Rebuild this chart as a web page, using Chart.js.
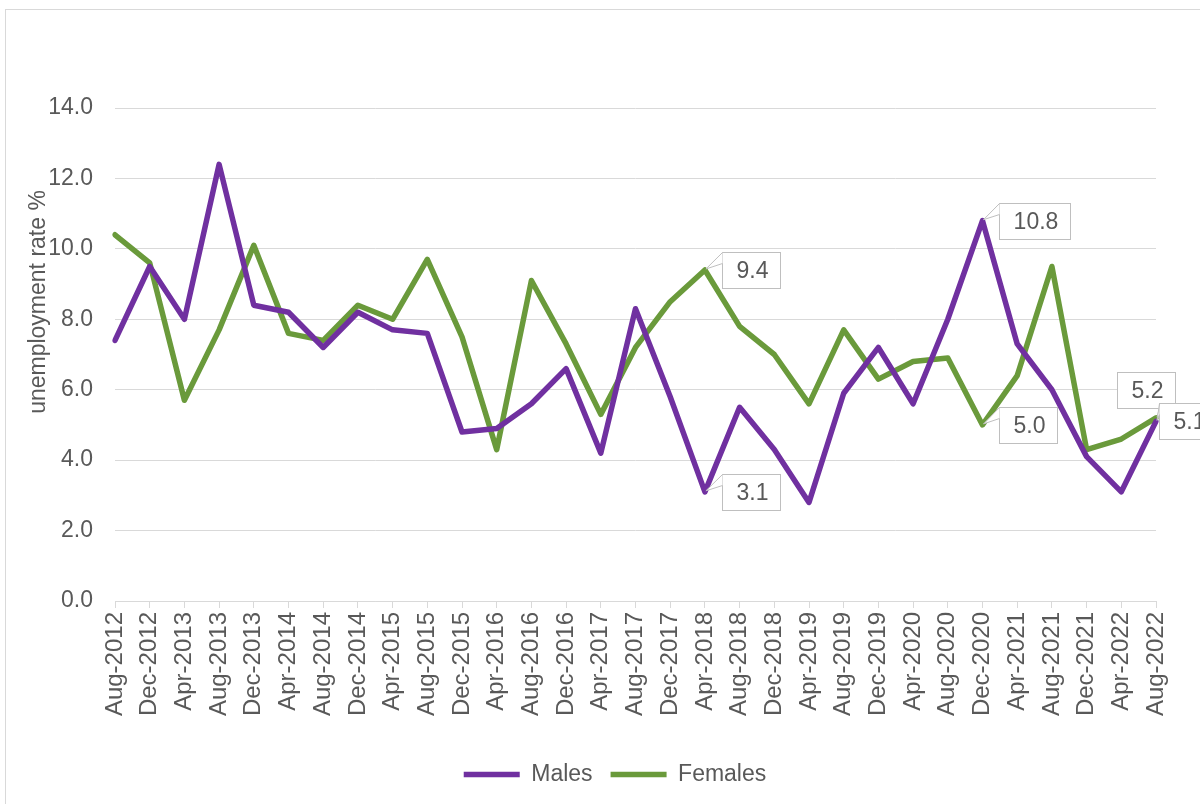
<!DOCTYPE html>
<html lang="en">
<head>
  <meta charset="UTF-8">
  <title>Unemployment rate by sex</title>
  <script src="https://cdn.jsdelivr.net/npm/chart.js"></script>
  <style>
    html, body {
      margin: 0;
      padding: 0;
      background: #ffffff;
    }
    #wrap {
      width: 1200px;
      height: 804px;
      position: relative;
    }
  </style>
</head>
<body>
<div id="wrap">
  <canvas id="chart"></canvas>
</div>

<script>
const months = [
  'Aug-2012', 'Dec-2012', 'Apr-2013', 'Aug-2013', 'Dec-2013', 'Apr-2014', 'Aug-2014', 'Dec-2014',
  'Apr-2015', 'Aug-2015', 'Dec-2015', 'Apr-2016', 'Aug-2016', 'Dec-2016', 'Apr-2017', 'Aug-2017',
  'Dec-2017', 'Apr-2018', 'Aug-2018', 'Dec-2018', 'Apr-2019', 'Aug-2019', 'Dec-2019', 'Apr-2020',
  'Aug-2020', 'Dec-2020', 'Apr-2021', 'Aug-2021', 'Dec-2021', 'Apr-2022', 'Aug-2022'
];

const males = [
  7.4, 9.5, 8.0, 12.4, 8.4, 8.2, 7.2, 8.2, 7.7, 7.6, 4.8, 4.9, 5.6, 6.6, 4.2, 8.3,
  5.8, 3.1, 5.5, 4.3, 2.8, 5.9, 7.2, 5.6, 8.0, 10.8, 7.3, 6.0, 4.1, 3.1, 5.1
];

const females = [
  10.4, 9.6, 5.7, 7.7, 10.1, 7.6, 7.4, 8.4, 8.0, 9.7, 7.5, 4.3, 9.1, 7.3, 5.3, 7.2,
  8.5, 9.4, 7.8, 7.0, 5.6, 7.7, 6.3, 6.8, 6.9, 5.0, 6.4, 9.5, 4.3, 4.6, 5.2
];

const yTicks = [0, 2, 4, 6, 8, 10, 12, 14];

const FONT = '"Liberation Sans", Arial, sans-serif';
const TEXT = '#595959';
const GRID = '#d9d9d9';

// which points get a value callout (series 0 = males, 1 = females)
const callouts = [
  { series: 0, index: 17, place: 'right', dx: 17 },
  { series: 1, index: 17, place: 'right', dx: 17 },
  { series: 0, index: 25, place: 'right', dx: 16 },
  { series: 1, index: 25, place: 'right', dx: 16 },
  { series: 1, index: 30, place: 'above', dx: -39, dy: 10 },
  { series: 0, index: 30, place: 'right', dx: 3 }
];

const frame = {
  id: 'frame',
  beforeDraw(chart) {
    const ctx = chart.ctx;
    ctx.save();
    ctx.strokeStyle = GRID;
    ctx.lineWidth = 1;
    ctx.strokeRect(5.5, 9.5, 1300, 1000);
    ctx.restore();
  }
};

// legend in the original sits a bit right of the canvas centre
const legendShift = {
  id: 'legendShift',
  afterLayout(chart) {
    chart.legend.left += 37;
    chart.legend.right += 37;
  }
};

const yTitle = {
  id: 'yTitle',
  afterDraw(chart) {
    const ctx = chart.ctx;
    ctx.save();
    ctx.translate(39, 302);
    ctx.rotate(-Math.PI / 2);
    ctx.font = '23px ' + FONT;
    ctx.fillStyle = TEXT;
    ctx.textAlign = 'center';
    ctx.textBaseline = 'middle';
    ctx.fillText('unemployment rate %', 0, 0);
    ctx.restore();
  }
};

const calloutLabels = {
  id: 'calloutLabels',
  afterDatasetsDraw(chart) {
    const ctx = chart.ctx;
    ctx.save();
    ctx.font = '23px ' + FONT;
    ctx.lineWidth = 1;
    callouts.forEach(c => {
      const pt = chart.getDatasetMeta(c.series).data[c.index];
      const text = chart.data.datasets[c.series].data[c.index].toFixed(1);
      const w = Math.round(ctx.measureText(text).width + 26);
      const h = 36;
      let left, top;
      if (c.place === 'above') {
        left = Math.round(pt.x + c.dx) + 0.5;
        top = Math.round(pt.y - c.dy - h) + 0.5;
      } else {
        left = Math.round(pt.x + c.dx) + 0.5;
        top = Math.round(pt.y - h / 2) + 0.5;
      }

      ctx.fillStyle = '#ffffff';
      ctx.strokeStyle = '#bfbfbf';
      ctx.fillRect(left, top, w, h);
      ctx.strokeRect(left, top, w, h);

      // pointer from the box to the point
      let a, b;
      if (c.place === 'above') {
        a = [left + w - 16, top + h];
        b = [left + w - 6, top + h];
      } else {
        a = [left, top];
        b = [left, top + 11];
      }
      ctx.beginPath();
      ctx.moveTo(a[0], a[1]);
      ctx.lineTo(pt.x + 1, pt.y - 1);
      ctx.lineTo(b[0], b[1]);
      ctx.closePath();
      ctx.fill();
      ctx.beginPath();
      ctx.moveTo(a[0], a[1]);
      ctx.lineTo(pt.x + 1, pt.y - 1);
      ctx.lineTo(b[0], b[1]);
      ctx.stroke();

      ctx.fillStyle = TEXT;
      ctx.textAlign = 'center';
      ctx.textBaseline = 'middle';
      ctx.fillText(text, left + w / 2 + 1, top + h / 2 + 1);
    });
    ctx.restore();
  }
};

new Chart(document.getElementById('chart'), {
  type: 'line',
  data: {
    labels: months,
    datasets: [
      {
        label: 'Males',
        data: males,
        borderColor: '#7030a0',
        backgroundColor: '#7030a0',
        borderWidth: 5.5,
        borderCapStyle: 'round',
        borderJoinStyle: 'round',
        pointRadius: 0,
        tension: 0
      },
      {
        label: 'Females',
        data: females,
        borderColor: '#6a9a3b',
        backgroundColor: '#6a9a3b',
        borderWidth: 5.5,
        borderCapStyle: 'round',
        borderJoinStyle: 'round',
        pointRadius: 0,
        tension: 0
      }
    ]
  },
  options: {
    responsive: true,
    maintainAspectRatio: false,
    animation: false,
    layout: {
      padding: { top: 108, right: 44, bottom: 8, left: 0 }
    },
    plugins: {
      tooltip: { enabled: false },
      legend: {
        position: 'bottom',
        labels: {
          usePointStyle: true,
          pointStyle: 'line',
          pointStyleWidth: 56,
          boxHeight: 6,
          padding: 18,
          color: TEXT,
          font: { family: FONT, size: 23 }
        }
      }
    },
    scales: {
      x: {
        offset: false,
        afterFit(scale) { scale.height = 144; },
        border: { color: GRID, width: 1 },
        grid: {
          drawOnChartArea: false,
          drawTicks: true,
          tickLength: 7,
          color: GRID
        },
        ticks: {
          autoSkip: false,
          maxRotation: 90,
          minRotation: 90,
          padding: 4,
          color: TEXT,
          font: { family: FONT, size: 24 }
        }
      },
      y: {
        min: 0,
        max: 14,
        afterFit(scale) { scale.width = 115; },
        afterBuildTicks(scale) { scale.ticks = yTicks.map(v => ({ value: v })); },
        border: { display: false },
        grid: {
          color: GRID,
          lineWidth: 1,
          drawTicks: false
        },
        ticks: {
          padding: 22,
          color: TEXT,
          font: { family: FONT, size: 23 },
          callback: v => v.toFixed(1)
        }
      }
    }
  },
  plugins: [frame, legendShift, calloutLabels, yTitle]
});
</script>
</body>
</html>
